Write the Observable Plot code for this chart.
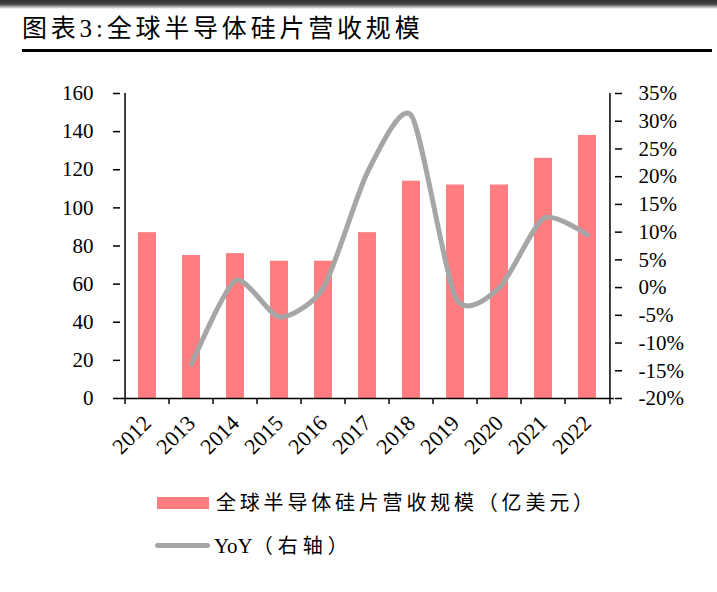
<!DOCTYPE html>
<html>
<head>
<meta charset="utf-8">
<script src="https://cdn.jsdelivr.net/npm/d3@7"></script>
<script src="https://cdn.jsdelivr.net/npm/@observablehq/plot@0.6"></script>
<style>
  html, body { margin: 0; padding: 0; background: #fff; }
  #wrap { position: relative; width: 717px; height: 592px; overflow: hidden; background: #fff; }
  #topbar { position: absolute; left: 0; top: 0; width: 717px; height: 9px;
    background: linear-gradient(#333 0px, #444 4px, #fff 9px); }
  #title { position: absolute; left: 22px; top: 14px; font-family: "Liberation Serif", "Noto Sans CJK SC", serif;
    font-size: 25px; letter-spacing: 3.8px; color: #000; line-height: 30px; white-space: nowrap; }
  #rule { position: absolute; left: 22px; top: 49px; width: 690px; height: 3px; background: #000; }
  #chart { position: absolute; left: 0; top: 60px; }
  .leg { position: absolute; font-family: "Liberation Serif", "Noto Sans CJK SC", serif; font-size: 20px;
    letter-spacing: 3.8px; color: #000; white-space: nowrap; line-height: 24px; }
  .sw-bar { position: absolute; left: 157px; top: 497px; width: 52px; height: 12px; background: #ff7c80; }
  .sw-line { position: absolute; left: 155px; top: 543px; width: 55px; height: 5px; border-radius: 3px; background: #a6a6a6; }
</style>
</head>
<body>
<div id="wrap">
  <div id="topbar"></div>
  <div id="title">图表3:全球半导体硅片营收规模</div>
  <div id="rule"></div>
  <div id="chart"></div>
  <div class="sw-bar"></div>
  <div class="leg" style="left:216px; top:491px;">全球半导体硅片营收规模（亿美元）</div>
  <div class="sw-line"></div>
  <div class="leg" style="left:214px; top:534px;"><span style="letter-spacing:0; font-size:21px;">YoY</span><span style="letter-spacing:5px;">（右轴）</span></div>
</div>
<script>
const years = ["2012","2013","2014","2015","2016","2017","2018","2019","2020","2021","2022"];
const revenue = [87, 75, 76, 72, 72, 87, 114, 112, 112, 126, 138];
const yoy = [null, -13.8, 1.3, -5.3, 0.0, 20.8, 31.0, -1.8, 0.0, 12.5, 9.5];
const leftTicks = [0, 20, 40, 60, 80, 100, 120, 140, 160];
const rightTicks = [-20, -15, -10, -5, 0, 5, 10, 15, 20, 25, 30, 35];

const leftMax = 160, rMin = -20, rMax = 35;
const toLeft = p => (p - rMin) / (rMax - rMin) * leftMax;
const fromLeft = v => v / leftMax * (rMax - rMin) + rMin;

const table = years.map((y, i) => ({year: y, revenue: revenue[i], yoy: yoy[i]}));
const yoyTable = table.filter(d => d.yoy != null);

const W = 717, H = 420, mL = 120, mR = 103, mT = 33, mB = 82;
const step = (W - mL - mR) / years.length;

const chart = Plot.plot({
  width: W, height: H,
  marginLeft: mL, marginRight: mR, marginTop: mT, marginBottom: mB,
  x: {domain: years, paddingInner: 0.6, paddingOuter: 0.3, label: null},
  y: {domain: [0, leftMax], label: null},
  style: {fontFamily: "Liberation Serif, serif", fontSize: "21px", color: "#000", background: "transparent", overflow: "visible"},
  marks: [
    Plot.barY(table, {x: "year", y: "revenue", fill: "#ff7c80"}),
    Plot.lineY(yoyTable, {x: "year", y: d => toLeft(d.yoy), stroke: "#a6a6a6", strokeWidth: 5, curve: "cardinal", tension: 0.3, strokeLinecap: "round"}),
    Plot.ruleY([0], {stroke: "#000", strokeWidth: 1.5}),
    Plot.ruleX([years[0]], {dx: -step / 2, stroke: "#000", strokeWidth: 1.5}),
    Plot.ruleX([years[years.length - 1]], {dx: step / 2, stroke: "#000", strokeWidth: 1.5}),
    Plot.axisX({tickSize: 6, tickFormat: () => "", dx: -step / 2, strokeWidth: 1.5, stroke: "#000", label: null}),
    Plot.axisX([years[years.length - 1]], {tickSize: 6, tickFormat: () => "", dx: step / 2, strokeWidth: 1.5, stroke: "#000", label: null}),
    Plot.axisX({tickSize: 0, tickRotate: -45, tickPadding: 21, fontSize: 22, label: null}),
    Plot.axisY(leftTicks, {anchor: "left", tickSize: 7, tickPadding: 20, strokeWidth: 1.5, stroke: "#000", label: null}),
    Plot.axisY(rightTicks.map(toLeft), {anchor: "right", tickSize: 7, tickPadding: 17, strokeWidth: 1.5, stroke: "#000", label: null,
      tickFormat: v => Math.round(fromLeft(v)) + "%"})
  ]
});
document.getElementById("chart").appendChild(chart);
</script>
</body>
</html>
